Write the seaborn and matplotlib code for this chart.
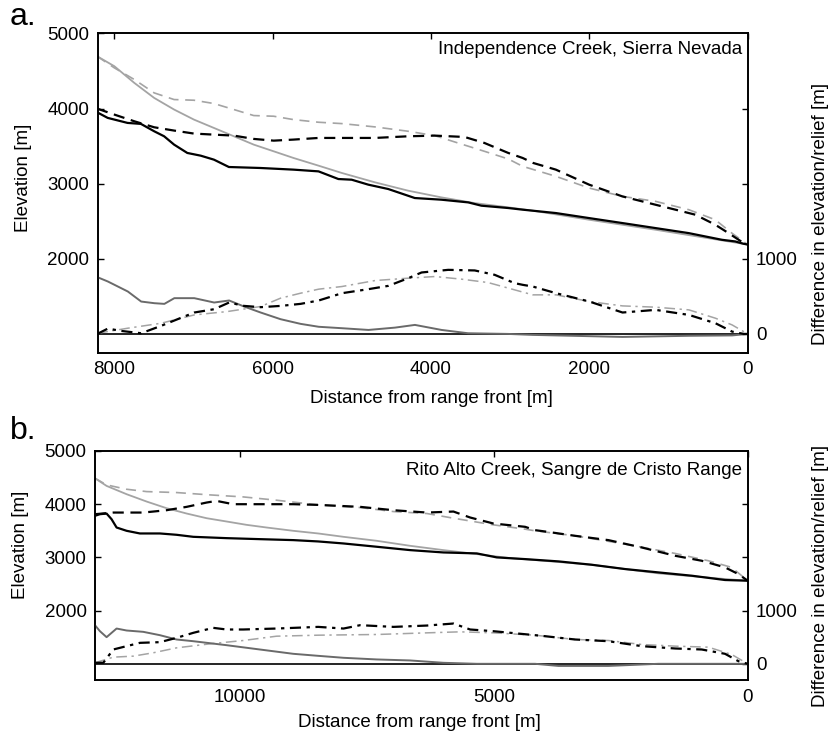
import matplotlib
matplotlib.use("Agg")
import matplotlib.pyplot as plt
import seaborn as sns
import numpy as np
import pandas as pd

# ---------------- Panel a: Independence Creek ----------------
a_floor_d = [8218, 8084, 7833, 7664, 7497, 7371, 7245, 7078, 6909, 6742, 6553, 6155, 5736, 5421, 5170, 5002,
             4792, 4540, 4205, 3870, 3530, 3363, 3024, 2842, 2423, 2003, 1584, 1165, 745, 325, 157, 52, 0]
a_floor_e = [3951, 3876, 3809, 3796, 3698, 3631, 3520, 3409, 3373, 3320, 3222, 3209, 3187, 3164, 3062, 3053,
             2987, 2929, 2809, 2787, 2751, 2707, 2676, 2654, 2609, 2542, 2476, 2409, 2342, 2253, 2231, 2200, 2190]

a_smooth_d = [8218, 8000, 7748, 7497, 7245, 6994, 6742, 6490, 6239, 5987, 5736, 5421, 5128, 4708, 4289, 3870,
              3451, 3024, 2710, 2003, 1165, 325, 0]
a_smooth_e = [4697, 4564, 4342, 4142, 3987, 3853, 3742, 3631, 3520, 3431, 3342, 3240, 3143, 3018, 2907, 2818,
              2742, 2685, 2640, 2520, 2387, 2245, 2190]

a_ridge_d = [8218, 8000, 7748, 7497, 7245, 6994, 6742, 6490, 6239, 5987, 5736, 5421, 5128, 4708, 4289, 3953,
             3576, 3325, 3024, 2842, 2710, 2423, 2003, 1584, 1165, 913, 661, 410, 242, 52, 0]
a_ridge_e = [4000, 3920, 3831, 3751, 3707, 3667, 3653, 3640, 3596, 3573, 3587, 3609, 3609, 3609, 3631, 3640,
             3622, 3542, 3409, 3342, 3276, 3187, 2987, 2831, 2720, 2654, 2587, 2454, 2342, 2210, 2190]

a_ridge2_d = [8218, 8000, 7748, 7497, 7245, 6994, 6742, 6490, 6239, 5987, 5736, 5421, 5128, 4708, 4289, 3953,
              3660, 3325, 3024, 2842, 2423, 2003, 1584, 1165, 745, 410, 200, 0]
a_ridge2_e = [4697, 4542, 4387, 4209, 4120, 4111, 4067, 3987, 3907, 3898, 3853, 3818, 3800, 3756, 3698, 3640,
              3542, 3431, 3329, 3231, 3098, 2942, 2831, 2765, 2654, 2520, 2342, 2190]

a_diff_d = [8215, 8082, 7830, 7661, 7494, 7368, 7242, 6990, 6739, 6550, 6362, 6152, 5900, 5648, 5418, 5125,
            4790, 4454, 4203, 3867, 3532, 3029, 2715, 1581, 742, 197, 0]
a_diff_v = [756, 698, 565, 431, 409, 400, 476, 476, 418, 445, 365, 285, 196, 134, 95, 76,
            53, 84, 120, 53, 9, 0, -13, -40, -25, -20, 0]

a_rel1_d = [8215, 8082, 7913, 7661, 7410, 7201, 6990, 6739, 6550, 6362, 6152, 5900, 5648, 5418, 5125, 4790,
            4538, 4287, 4119, 3783, 3448, 3197, 2945, 2839, 2715, 2420, 2000, 1581, 1162, 742, 407, 197, 50, 0]
a_rel1_v = [0, 71, 40, 9, 107, 196, 285, 329, 418, 373, 356, 373, 400, 445, 542, 596,
            640, 742, 818, 853, 845, 787, 676, 653, 631, 542, 431, 285, 320, 253, 142, 31, 0, 0]

a_rel2_d = [8215, 7830, 7410, 6990, 6572, 6152, 5900, 5648, 5418, 5125, 4705, 4287, 3950, 3615, 3280, 2945,
            2715, 2420, 2000, 1581, 1162, 742, 407, 197, 0]
a_rel2_v = [9, 76, 142, 253, 298, 365, 476, 542, 596, 631, 711, 742, 764, 729, 684, 587,
            520, 520, 431, 373, 356, 320, 209, 120, 0]

# ---------------- Panel b: Rito Alto Creek ----------------
b_floor_d = [12851, 12753, 12622, 12524, 12425, 12228, 11966, 11572, 11244, 10916, 10260, 9604, 8948, 8456,
             7958, 7302, 6646, 5990, 5334, 4940, 4383, 3726, 3071, 2414, 1758, 1102, 446, 0]
b_floor_e = [3782, 3812, 3824, 3718, 3562, 3500, 3450, 3450, 3425, 3387, 3362, 3343, 3325, 3300,
             3262, 3200, 3137, 3093, 3075, 3000, 2968, 2925, 2862, 2781, 2718, 2656, 2575, 2562]

b_smooth_d = [12851, 12622, 12228, 11834, 11441, 11047, 10654, 10260, 9866, 9473, 8948, 8456, 7958, 7302,
              6646, 5990, 5334, 4678, 4186, 3071, 1758, 446, 0]
b_smooth_e = [4488, 4344, 4188, 4050, 3925, 3825, 3737, 3675, 3612, 3562, 3500, 3450, 3387, 3312,
              3218, 3137, 3062, 2987, 2950, 2862, 2700, 2594, 2562]

b_ridge_d = [12851, 12490, 11900, 11441, 11047, 10654, 10457, 10129, 9604, 8948, 8456, 7630, 6974, 6318,
             5793, 5465, 5006, 4383, 4186, 3989, 3399, 2743, 2087, 1430, 905, 446, 184, 0]
b_ridge_e = [3812, 3843, 3843, 3887, 3950, 4031, 4062, 4000, 4000, 4000, 3987, 3950, 3887, 3843,
             3862, 3750, 3637, 3575, 3512, 3487, 3406, 3325, 3187, 3031, 2937, 2812, 2687, 2562]

b_ridge2_d = [12851, 12622, 12228, 11834, 11244, 10588, 9932, 9276, 8456, 7630, 6974, 6318, 5793, 5006,
              4383, 4186, 3399, 2414, 1430, 774, 315, 0]
b_ridge2_e = [4488, 4363, 4281, 4237, 4219, 4175, 4137, 4075, 3987, 3937, 3862, 3825, 3737, 3612,
              3531, 3500, 3406, 3250, 3075, 2937, 2812, 2562]

b_diff_d = [12851, 12753, 12622, 12425, 12228, 11900, 11572, 11244, 10916, 10260, 9604, 8948, 8456, 7958,
            7302, 6646, 5990, 5334, 4186, 3726, 2743, 1758, 0]
b_diff_v = [726, 613, 501, 663, 626, 601, 538, 457, 425, 350, 269, 188, 150, 113,
            82, 63, 19, 0, 0, -40, -40, 0, 0]

b_rel1_d = [12851, 12687, 12490, 12228, 11966, 11572, 11244, 10916, 10523, 10260, 9932, 9276, 8456, 7958,
            7630, 6974, 6318, 5793, 5465, 5006, 4186, 3989, 3399, 2743, 2087, 1430, 905, 446, 184, 0]
b_rel1_v = [19, 19, 269, 332, 394, 407, 488, 582, 676, 645, 645, 663, 694, 663,
            726, 694, 719, 757, 645, 613, 538, 519, 457, 425, 332, 288, 269, 188, 50, 0]

b_rel2_d = [12851, 12490, 12097, 11704, 11244, 10588, 9932, 9276, 8456, 7302, 6318, 5662, 5006, 4186,
            3399, 2743, 2087, 1430, 774, 315, 0]
b_rel2_v = [19, 125, 144, 207, 300, 375, 438, 519, 538, 551, 582, 601, 582, 538,
            457, 438, 363, 332, 313, 175, 0]

titles = ["Independence Creek, Sierra Nevada", "Rito Alto Creek, Sangre de Cristo Range"]
panel_letters = ["a.", "b."]
elev_ticks = [2000, 3000, 4000, 5000]
diff_ticks = [0, 1000, 2000, 3000]
diff_labels = ["0", "1000", "", ""]
a_xticks = [8000, 6000, 4000, 2000, 0]
b_xticks = [10000, 5000, 0]

# ---------------- styling ----------------
sns.set_style("white")
plt.rcParams["font.family"] = ["Liberation Sans", "DejaVu Sans"]
for k in ("text.color", "axes.labelcolor", "xtick.color", "ytick.color", "xtick.labelcolor", "ytick.labelcolor"):
    plt.rcParams[k] = "black"
FS = 13.5

BLACK = "#000000"
LGRAY = "#a4a4a4"
DGRAY = "#6a6a6a"

fig = plt.figure(figsize=(8.3, 7.34), dpi=100)
axA = fig.add_axes([97.7 / 830, 1 - 352.7 / 734, 650 / 830, 320 / 734])
axB = fig.add_axes([95.0 / 830, 1 - 680.3 / 734, 652.7 / 830, 229.3 / 734])

panels = [
    dict(ax=axA, xlim=(8210, 0), ylim=(750, 5010), xticks=a_xticks,
         floor=(a_floor_d, a_floor_e), smooth=(a_smooth_d, a_smooth_e),
         ridge=(a_ridge_d, a_ridge_e), ridge2=(a_ridge2_d, a_ridge2_e),
         diff=(a_diff_d, a_diff_v), rel1=(a_rel1_d, a_rel1_v), rel2=(a_rel2_d, a_rel2_v),
         ylab_y=0.548, rlab_y=0.433, xlab=(0.513, -0.118), title_y=0.946, letter_y=1 - 17 / 734),
    dict(ax=axB, xlim=(12850, 0), ylim=(690, 5000), xticks=b_xticks,
         floor=(b_floor_d, b_floor_e), smooth=(b_smooth_d, b_smooth_e),
         ridge=(b_ridge_d, b_ridge_e), ridge2=(b_ridge2_d, b_ridge2_e),
         diff=(b_diff_d, b_diff_v), rel1=(b_rel1_d, b_rel1_v), rel2=(b_rel2_d, b_rel2_v),
         ylab_y=0.59, rlab_y=0.455, xlab=(0.497, -0.145), title_y=0.917, letter_y=1 - 431 / 734),
]

for i, p in enumerate(panels):
    ax = p["ax"]
    ax2 = ax.twinx()

    def line(axis, key, color, lw, ls):
        d, v = p[key]
        sns.lineplot(x=d, y=v, ax=axis, color=color, linewidth=lw, linestyle=ls,
                     estimator=None, sort=False, legend=False)

    line(ax, "ridge2", LGRAY, 1.2, (0, (6, 4)))
    line(ax, "smooth", LGRAY, 1.3, "-")
    line(ax, "ridge", BLACK, 1.6, (0, (5, 3)))
    line(ax, "floor", BLACK, 1.6, "-")

    ax2.axhline(0, color=BLACK, lw=1.2)
    line(ax2, "rel2", LGRAY, 1.1, (0, (7, 3, 1.5, 3)))
    line(ax2, "diff", DGRAY, 1.4, "-")
    line(ax2, "rel1", BLACK, 1.6, (0, (5, 2.5, 1.5, 2.5)))

    ax.set_xlim(*p["xlim"])
    ax.set_ylim(*p["ylim"])
    ax2.set_ylim(p["ylim"][0] - 1000, p["ylim"][1] - 1000)
    ax.set_xticks(p["xticks"])
    ax.set_xticklabels([str(t) for t in p["xticks"]])
    ax.set_yticks(elev_ticks)
    ax.set_yticklabels([str(t) for t in elev_ticks])
    ax2.set_yticks(diff_ticks)
    ax2.set_yticklabels(diff_labels)

    ax.tick_params(axis="both", direction="in", length=4, width=1, top=True, right=False,
                   labelsize=FS, pad=6, color="k", labelcolor="k")
    ax2.tick_params(axis="y", direction="in", length=4, width=1, labelsize=FS, pad=6, color="k", labelcolor="k")
    for a in (ax, ax2):
        for s in a.spines.values():
            s.set_color("k")
            s.set_linewidth(1.2)

    ax.set_ylabel("Elevation [m]", fontsize=FS, color="k")
    ax.yaxis.set_label_coords(-0.101, p["ylab_y"])
    ax2.set_ylabel("Difference in elevation/relief [m]", fontsize=FS, rotation=90, color="k")
    ax2.yaxis.set_label_coords(1.099, p["rlab_y"])
    ax.set_xlabel("Distance from range front [m]", fontsize=FS, color="k")
    ax.xaxis.set_label_coords(*p["xlab"])

    ax.text(0.991, p["title_y"], titles[i], transform=ax.transAxes, ha="right", va="center",
            fontsize=FS, color="k")
    fig.text(0.012, p["letter_y"], panel_letters[i], fontsize=23, ha="left", va="center", color="k")

fig.savefig("out.png", dpi=100)
